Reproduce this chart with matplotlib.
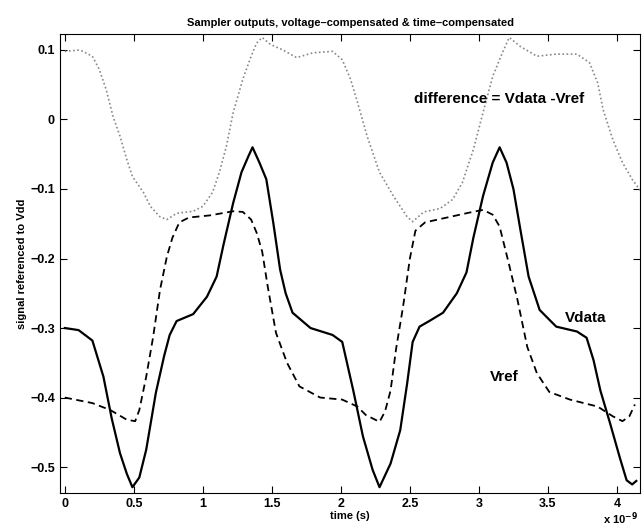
import matplotlib
matplotlib.use("Agg")
from matplotlib import pyplot as plt

# time axis in units of 1e-9 s
t_data = [0.00, 0.10, 0.20, 0.28, 0.34, 0.40, 0.45, 0.49, 0.54, 0.59, 0.66, 0.72, 0.76,
          0.81, 0.93, 1.03, 1.10, 1.15, 1.22, 1.28, 1.33, 1.36, 1.41, 1.46, 1.51, 1.56,
          1.60, 1.65, 1.78, 1.94, 2.01, 2.09, 2.16, 2.23, 2.28, 2.36, 2.43, 2.48, 2.52,
          2.57, 2.64, 2.74, 2.84, 2.91, 2.96, 3.03, 3.10, 3.15, 3.20, 3.25, 3.30, 3.36,
          3.44, 3.56, 3.71, 3.78, 3.83, 3.88, 3.95, 4.02, 4.07, 4.11, 4.14]
vdata = [-0.300, -0.303, -0.318, -0.370, -0.430, -0.480, -0.510, -0.529, -0.515, -0.475,
         -0.393, -0.340, -0.310, -0.290, -0.280, -0.255, -0.226, -0.180, -0.120, -0.076,
         -0.053, -0.040, -0.062, -0.086, -0.148, -0.216, -0.250, -0.278, -0.300, -0.310,
         -0.320, -0.390, -0.456, -0.504, -0.529, -0.495, -0.447, -0.380, -0.320, -0.298,
         -0.290, -0.278, -0.250, -0.220, -0.170, -0.110, -0.062, -0.040, -0.062, -0.100,
         -0.158, -0.226, -0.274, -0.298, -0.305, -0.314, -0.346, -0.390, -0.437, -0.486,
         -0.519, -0.525, -0.520]

t_ref = [0.00, 0.20, 0.33, 0.45, 0.51, 0.54, 0.59, 0.64, 0.69, 0.74, 0.78, 0.83, 0.90,
         1.05, 1.22, 1.29, 1.35, 1.39, 1.43, 1.47, 1.53, 1.61, 1.70, 1.85, 2.01, 2.12,
         2.18, 2.28, 2.32, 2.36, 2.40, 2.45, 2.50, 2.54, 2.61, 2.77, 2.93, 3.03, 3.10,
         3.15, 3.18, 3.22, 3.28, 3.35, 3.42, 3.51, 3.66, 3.86, 3.97, 4.04, 4.09, 4.13]
vref = [-0.400, -0.408, -0.418, -0.432, -0.434, -0.418, -0.370, -0.313, -0.245, -0.197,
        -0.170, -0.148, -0.141, -0.138, -0.132, -0.133, -0.144, -0.163, -0.190, -0.240,
        -0.307, -0.350, -0.384, -0.400, -0.403, -0.413, -0.425, -0.435, -0.420, -0.390,
        -0.330, -0.270, -0.200, -0.160, -0.148, -0.141, -0.134, -0.130, -0.137, -0.154,
        -0.178, -0.210, -0.260, -0.327, -0.365, -0.392, -0.403, -0.413, -0.427, -0.434,
        -0.427, -0.410]

t_diff = [0.00, 0.11, 0.20, 0.25, 0.30, 0.35, 0.40, 0.45, 0.49, 0.57, 0.62, 0.69, 0.74,
          0.81, 0.93, 1.00, 1.07, 1.12, 1.17, 1.22, 1.29, 1.35, 1.39, 1.43, 1.49, 1.58,
          1.68, 1.80, 1.94, 2.01, 2.07, 2.12, 2.19, 2.28, 2.38, 2.48, 2.52, 2.60, 2.72,
          2.81, 2.88, 2.96, 3.03, 3.10, 3.17, 3.22, 3.30, 3.42, 3.56, 3.71, 3.80, 3.86,
          3.90, 3.97, 4.04, 4.11, 4.18]
vdiff = [0.098, 0.100, 0.091, 0.072, 0.043, 0.004, -0.024, -0.058, -0.082, -0.105,
         -0.125, -0.140, -0.144, -0.135, -0.132, -0.125, -0.105, -0.076, -0.039, 0.010,
         0.058, 0.091, 0.110, 0.118, 0.108, 0.100, 0.089, 0.096, 0.098, 0.086, 0.058,
         0.025, -0.024, -0.076, -0.110, -0.140, -0.147, -0.133, -0.128, -0.115, -0.091,
         -0.043, 0.010, 0.062, 0.096, 0.118, 0.105, 0.091, 0.094, 0.094, 0.082, 0.053,
         0.014, -0.029, -0.062, -0.086, -0.105]

xticks = [0, 0.5, 1, 1.5, 2, 2.5, 3, 3.5, 4]
xticklabels = ['0', '0.5', '1', '1.5', '2', '2.5', '3', '3.5', '4']
yticks = [-0.5, -0.4, -0.3, -0.2, -0.1, 0, 0.1]
yticklabels = ['\u22120.5', '\u22120.4', '\u22120.3', '\u22120.2', '\u22120.1', '0', '0.1']

plt.rcParams['font.family'] = ['Liberation Sans', 'DejaVu Sans']
plt.rcParams['font.weight'] = 'bold'

fig = plt.figure(figsize=(6.43, 5.31), dpi=100)
ax = fig.add_axes([0.093, 0.072, 0.903, 0.864])

ax.plot(t_diff, vdiff, color='#888888', linestyle=(0, (1, 1.5)), linewidth=1.2)
ax.plot(t_data, vdata, color='black', linestyle='-', linewidth=1.6)
ax.plot(t_ref, vref, color='black', linestyle=(0, (4, 2.5)), linewidth=1.3)

ax.set_xlim(-0.036, 4.17)
ax.set_ylim(-0.537, 0.123)
ax.set_xticks(xticks)
ax.set_xticklabels(xticklabels)
ax.set_yticks(yticks)
ax.set_yticklabels(yticklabels)
ax.tick_params(direction='in', top=True, right=True, labelsize=9, length=5, width=0.8)
for lbl in ax.get_xticklabels() + ax.get_yticklabels():
    lbl.set_fontweight('bold')

ax.set_title('Sampler outputs, voltage\u2013compensated & time\u2013compensated',
             fontsize=8, fontweight='bold', pad=6)
ax.set_xlabel('time (s)', fontsize=8, fontweight='bold', labelpad=1)
ax.set_ylabel('signal referenced to Vdd', fontsize=8, fontweight='bold', labelpad=2)

ax.text(2.53, 0.03, 'difference = Vdata -Vref', fontsize=11, fontweight='bold', va='center')
ax.text(3.62, -0.286, 'Vdata', fontsize=11, fontweight='bold', va='center')
ax.text(3.08, -0.37, 'Vref', fontsize=11, fontweight='bold', va='center')
fig.text(0.992, 0.014, 'x 10$^{-9}$', fontsize=8, fontweight='bold', ha='right')

fig.savefig('out.png', dpi=100)
